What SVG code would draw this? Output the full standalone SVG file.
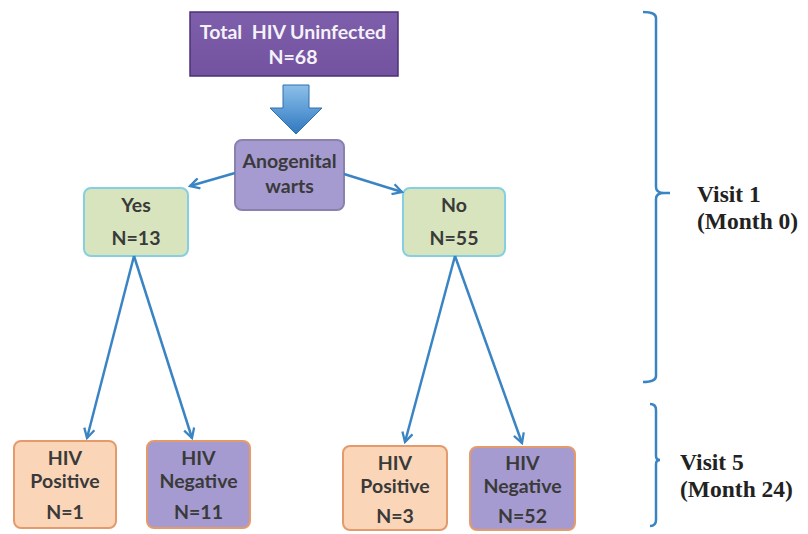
<svg xmlns="http://www.w3.org/2000/svg" width="808" height="534" viewBox="0 0 808 534">
<style>
.t{font-family:Lato,"Open Sans","Liberation Sans",sans-serif;font-weight:bold;font-size:19.5px;text-anchor:middle;fill:#3a3a3a;white-space:pre}
.w{fill:#f4f2f8}
.v{font-family:"Liberation Serif","DejaVu Serif",serif;font-weight:bold;font-size:23.5px;fill:#222}
.c{stroke:#3a84c4;stroke-width:2.5;fill:none}
.b{stroke:#3a84c4;stroke-width:2.5;fill:none}
</style>
<defs>
<marker id="ah" viewBox="0 0 12 12" refX="10" refY="6" markerWidth="5" markerHeight="5" orient="auto" markerUnits="strokeWidth">
<polyline points="1,1 10,6 1,11" fill="none" stroke="#3a84c4" stroke-width="2.2"/>
</marker>
<linearGradient id="ga" x1="0" y1="0" x2="0" y2="1">
<stop offset="0" stop-color="#8cc0ea"/>
<stop offset="1" stop-color="#2f78c0"/>
</linearGradient>
<linearGradient id="gp" x1="0" y1="0" x2="0" y2="1">
<stop offset="0" stop-color="#7e5fab"/>
<stop offset="1" stop-color="#73529f"/>
</linearGradient>
</defs>
<rect width="808" height="534" fill="#fff"/>

<g id="total">
<rect x="190" y="12" width="208" height="64" fill="url(#gp)" stroke="#4b3274" stroke-width="1.5"/>
<text class="t w" x="293" y="39" xml:space="preserve">Total  HIV Uninfected</text>
<text class="t w" x="293" y="64">N=68</text>
</g>

<g id="bigarrow">
<path d="M283,85 H309 V108 H322 L296,134 L270,108 H283 Z" fill="url(#ga)" stroke="#2f6fae" stroke-width="1"/>
</g>

<g id="anogenital">
<rect x="235" y="140" width="109" height="70" rx="7" fill="#a59bd0" stroke="#8a82ad" stroke-width="2"/>
<text class="t" x="289.5" y="168">Anogenital</text>
<text class="t" x="289.5" y="193">warts</text>
</g>

<g id="yes">
<rect x="84" y="188" width="104" height="68" rx="7" fill="#d7e4bd" stroke="#84d0e2" stroke-width="2"/>
<text class="t" x="136" y="212">Yes</text>
<text class="t" x="136" y="245">N=13</text>
</g>

<g id="no">
<rect x="403" y="188" width="102" height="68" rx="7" fill="#d7e4bd" stroke="#84d0e2" stroke-width="2"/>
<text class="t" x="454" y="212">No</text>
<text class="t" x="454" y="245">N=55</text>
</g>

<g id="pos1">
<rect x="14" y="441" width="102" height="87" rx="7" fill="#fad5b8" stroke="#e59a6c" stroke-width="2"/>
<text class="t" x="65" y="465">HIV</text>
<text class="t" x="65" y="488">Positive</text>
<text class="t" x="65" y="519">N=1</text>
</g>

<g id="neg11">
<rect x="147" y="441" width="103" height="87" rx="7" fill="#a59bd0" stroke="#e59a6c" stroke-width="2"/>
<text class="t" x="198.5" y="465">HIV</text>
<text class="t" x="198.5" y="488">Negative</text>
<text class="t" x="198.5" y="519">N=11</text>
</g>

<g id="pos3">
<rect x="343" y="446" width="104" height="84" rx="7" fill="#fad5b8" stroke="#e59a6c" stroke-width="2"/>
<text class="t" x="395" y="470">HIV</text>
<text class="t" x="395" y="493">Positive</text>
<text class="t" x="395" y="523">N=3</text>
</g>

<g id="neg52">
<rect x="470" y="447" width="105" height="83" rx="7" fill="#a59bd0" stroke="#e59a6c" stroke-width="2"/>
<text class="t" x="522.5" y="470">HIV</text>
<text class="t" x="522.5" y="493">Negative</text>
<text class="t" x="522.5" y="523">N=52</text>
</g>

<g id="connectors">
<line class="c" x1="235" y1="173" x2="190" y2="186" marker-end="url(#ah)"/>
<line class="c" x1="344" y1="174" x2="402" y2="192" marker-end="url(#ah)"/>
<line class="c" x1="134" y1="256" x2="87" y2="438" marker-end="url(#ah)"/>
<line class="c" x1="134" y1="256" x2="192" y2="438" marker-end="url(#ah)"/>
<line class="c" x1="455" y1="256" x2="405" y2="442" marker-end="url(#ah)"/>
<line class="c" x1="455" y1="256" x2="522" y2="443" marker-end="url(#ah)"/>
</g>

<g id="bracket1">
<path class="b" d="M643,12 Q656,12 656,18 V187 Q656,193 664,193 H670 M664,193 Q656,193 656,199 V376 Q656,382 643,382"/>
<text class="v" x="697" y="202">Visit 1</text>
<text class="v" x="697" y="229">(Month 0)</text>
</g>

<g id="bracket5">
<path class="b" d="M650,404 Q656,404 656,410 V456 Q656,460 660,460 M660,460 Q656,460 656,464 V520 Q656,526 650,526"/>
<text class="v" x="680" y="470">Visit 5</text>
<text class="v" x="680" y="497">(Month 24)</text>
</g>
</svg>
